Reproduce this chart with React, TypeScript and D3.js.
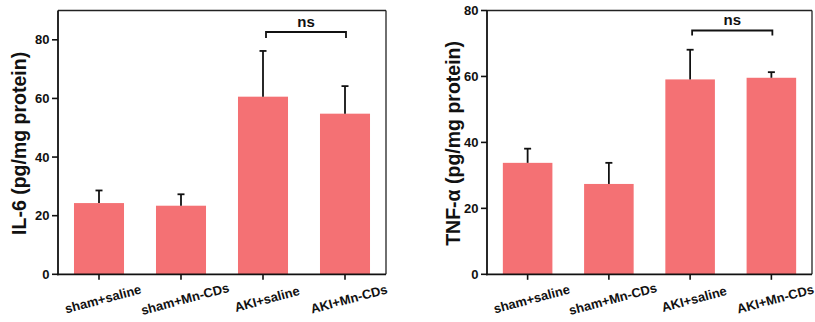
import React from "react";
import * as d3 from "d3";

const categories = ["sham+saline", "sham+Mn-CDs", "AKI+saline", "AKI+Mn-CDs"];
const il6Means = [24.3, 23.4, 60.6, 54.8];
const il6Errors = [4.3, 3.9, 15.6, 9.4];
const tnfMeans = [33.8, 27.4, 59.1, 59.6];
const tnfErrors = [4.3, 6.4, 9.0, 1.7];
const il6Ticks = [0, 20, 40, 60, 80];
const tnfTicks = [0, 20, 40, 60, 80];

const FONT = "'Liberation Sans', Arial, Helvetica, sans-serif";
const BAR = "#F47174";

type PanelProps = {
  left: number;
  right: number;
  top: number;
  bottom: number;
  yMax: number;
  ticks: number[];
  means: number[];
  errors: number[];
  yLabel: string;
  yLabelX: number;
  bracketY: number;
  bracketDrop: number;
  nsY: number;
  bracketOffsets: [number, number];
};

function Panel(p: PanelProps) {
  const x = d3
    .scaleBand<string>()
    .domain(categories)
    .range([p.left, p.right])
    .paddingInner(0.39)
    .paddingOuter(0.195);
  const y = d3.scaleLinear().domain([0, p.yMax]).range([p.bottom, p.top]);
  const cx = (c: string) => (x(c) as number) + x.bandwidth() / 2;
  const b1 = cx(categories[2]) + p.bracketOffsets[0];
  const b2 = cx(categories[3]) + p.bracketOffsets[1];
  return (
    <g>
      {categories.map((c, i) => (
        <rect
          key={c}
          x={x(c)}
          y={y(p.means[i])}
          width={x.bandwidth()}
          height={p.bottom - y(p.means[i])}
          fill={BAR}
        />
      ))}
      {categories.map((c, i) => {
        const top = y(p.means[i] + p.errors[i]);
        return (
          <g key={"e" + c} stroke="#111" strokeWidth={1.8}>
            <line x1={cx(c)} x2={cx(c)} y1={y(p.means[i])} y2={top} />
            <line x1={cx(c) - 3.5} x2={cx(c) + 3.5} y1={top} y2={top} />
          </g>
        );
      })}
      {/* frame */}
      <line x1={p.left} x2={p.right} y1={p.top} y2={p.top} stroke="#222" strokeWidth={1.3} />
      <line x1={p.right} x2={p.right} y1={p.top} y2={p.bottom} stroke="#222" strokeWidth={1.3} />
      <line x1={p.left} x2={p.left} y1={p.top} y2={p.bottom + 1} stroke="#111" strokeWidth={1.8} />
      <line x1={p.left - 1} x2={p.right} y1={p.bottom} y2={p.bottom} stroke="#111" strokeWidth={1.8} />
      {/* y ticks */}
      {p.ticks.map((t) => (
        <g key={"t" + t}>
          <line x1={p.left - 6} x2={p.left} y1={y(t)} y2={y(t)} stroke="#111" strokeWidth={1.6} />
          <text
            x={p.left - 8.5}
            y={y(t)}
            textAnchor="end"
            dominantBaseline="central"
            fontFamily={FONT}
            fontWeight="bold"
            fontSize={13}
            fill="#111"
          >
            {t}
          </text>
        </g>
      ))}
      {/* x ticks */}
      {categories.map((c) => (
        <g key={"x" + c}>
          <line x1={cx(c)} x2={cx(c)} y1={p.bottom} y2={p.bottom + 5.5} stroke="#111" strokeWidth={1.6} />
          <text
            transform={`translate(${cx(c) + 4},${299}) rotate(-15)`}
            textAnchor="middle"
            dominantBaseline="central"
            fontFamily={FONT}
            fontWeight="bold"
            fontSize={13}
            fill="#111"
          >
            {c}
          </text>
        </g>
      ))}
      {/* y label */}
      <text
        transform={`translate(${p.yLabelX},${(p.top + p.bottom) / 2 + 1}) rotate(-90)`}
        textAnchor="middle"
        dominantBaseline="central"
        fontFamily={FONT}
        fontWeight="bold"
        fontSize={19.5}
        fill="#111"
      >
        {p.yLabel}
      </text>
      {/* ns bracket */}
      <path
        d={`M${b1},${p.bracketY + p.bracketDrop}V${p.bracketY}H${b2}V${p.bracketY + p.bracketDrop}`}
        fill="none"
        stroke="#111"
        strokeWidth={1.8}
      />
      <text
        x={(b1 + b2) / 2}
        y={p.nsY}
        textAnchor="middle"
        fontFamily={FONT}
        fontWeight="bold"
        fontSize={15}
        fill="#111"
      >
        ns
      </text>
    </g>
  );
}

export default function App() {
  return (
    <svg
      width={815}
      height={322}
      style={{ position: "absolute", left: 0, top: 0, background: "#fff" }}
    >
      <rect width={815} height={322} fill="#fff" />
      <Panel
        left={58}
        right={386}
        top={10.5}
        bottom={274.3}
        yMax={90}
        ticks={il6Ticks}
        means={il6Means}
        errors={il6Errors}
        yLabel="IL-6 (pg/mg protein)"
        yLabelX={19}
        bracketY={32}
        bracketDrop={6}
        nsY={27}
        bracketOffsets={[3, 1]}
      />
      <Panel
        left={487}
        right={812}
        top={10.5}
        bottom={274.3}
        yMax={80}
        ticks={tnfTicks}
        means={tnfMeans}
        errors={tnfErrors}
        yLabel="TNF-α (pg/mg protein)"
        yLabelX={453}
        bracketY={30.5}
        bracketDrop={5}
        nsY={25}
        bracketOffsets={[2, 1]}
      />
    </svg>
  );
}
